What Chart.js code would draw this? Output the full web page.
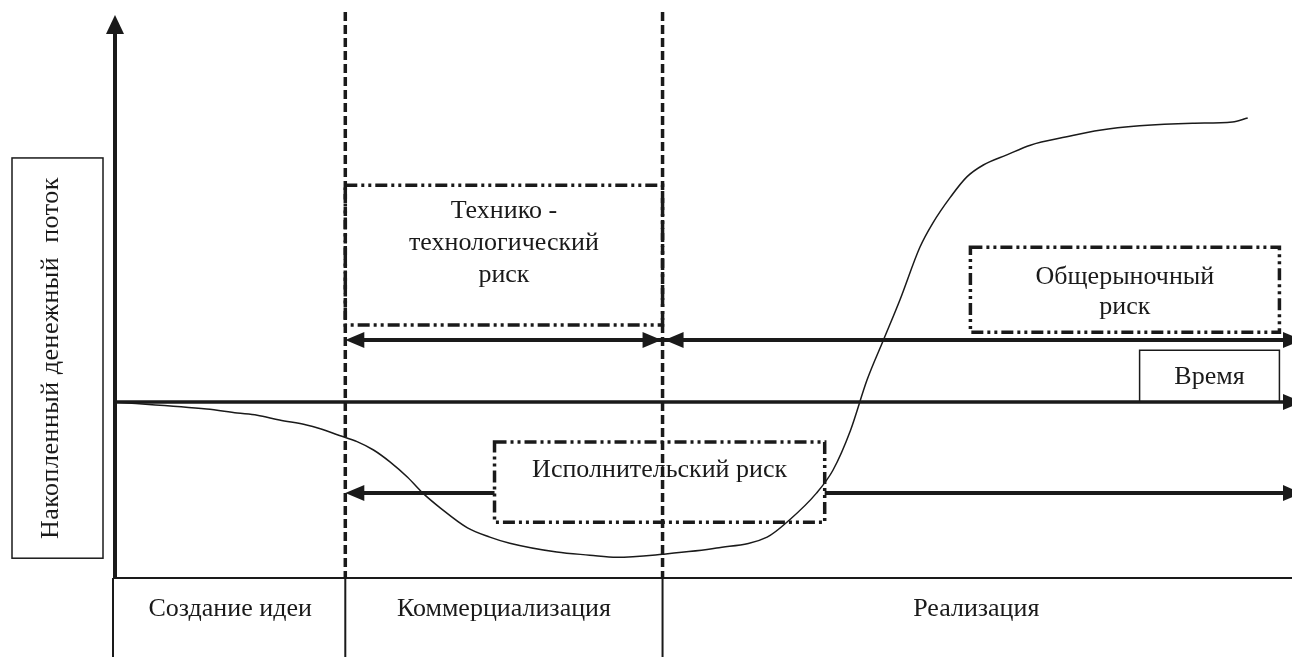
<!DOCTYPE html>
<html>
<head>
<meta charset="utf-8">
<script src="https://cdn.jsdelivr.net/npm/chart.js@4.4.1/dist/chart.umd.min.js"></script>
<style>
  body { margin: 0; background: #fff; }
  #wrap { width: 1292px; height: 657px; position: relative; }
</style>
</head>
<body>
<div id="wrap"><canvas id="chart"></canvas></div>
<script>
// cumulative cash flow curve (time units 0..100, money in relative units)
const timeValues = [0, 7.8, 10.4, 12.1, 14.0, 16.3, 17.4, 19.1, 20.6, 22.0, 23.4, 24.9, 26.2, 27.7, 30.0, 31.9, 33.6, 37.6, 40.4, 42.7, 46.6, 51.2, 55.5, 57.4, 59.7, 61.1, 62.6, 64.0, 65.4, 66.8, 68.5, 69.6, 71.1, 72.5, 73.9, 75.9, 77.9, 81.0, 83.8, 87.2, 91.7, 95.1, 96.4];
const cashFlow = [0, -1.6, -2.5, -3.0, -4.1, -5.2, -6.0, -7.6, -9.0, -10.9, -13.6, -17.1, -20.7, -24.1, -28.6, -30.7, -32.1, -34.1, -34.8, -35.3, -34.6, -33.2, -30.7, -26.8, -20.7, -15.5, -6.4, 5.0, 14.1, 23.2, 35.2, 40.7, 46.6, 51.2, 53.9, 56.2, 58.4, 60.3, 61.8, 62.8, 63.4, 63.7, 64.6];

// phases along the time axis
const phaseLabels = ['Создание идеи', 'Коммерциализация', 'Реализация'];
const phaseBounds = [0, 19.6, 46.6, 100];

// risk boxes: [x1, x2, yTop, yBottom] in chart units
const riskText = [['Технико -', 'технологический', 'риск'], ['Общерыночный', 'риск'], ['Исполнительский риск']];
const riskBoxes = [[19.6, 46.6, 49.3, 17.5], [72.8, 99.1, 35.2, 15.9], [32.3, 60.4, -9.1, -27.3]];

// arrow rows (y levels)
const upperRow = 14.1;
const lowerRow = -20.7;
const timeBox = [87.2, 99.1, 11.8, 0];

const yTitle = 'Накопленный денежный  поток';
const xTitle = 'Время';

const FONT = '26px "Liberation Serif", "Times New Roman", serif';
const INK = '#1a1a1a';

function head(ctx, x, y, dir) {
  ctx.beginPath();
  if (dir === 'up') {
    ctx.moveTo(x, y); ctx.lineTo(x - 9, y + 19); ctx.lineTo(x + 9, y + 19);
  } else {
    ctx.moveTo(x, y); ctx.lineTo(x - dir * 19, y - 8); ctx.lineTo(x - dir * 19, y + 8);
  }
  ctx.closePath();
  ctx.fill();
}

function hline(ctx, x1, x2, y, w) {
  ctx.lineWidth = w;
  ctx.beginPath(); ctx.moveTo(x1, y); ctx.lineTo(x2, y); ctx.stroke();
}

const diagram = {
  id: 'diagram',
  afterDatasetsDraw(chart) {
    const ctx = chart.ctx;
    const xs = chart.scales.x, ys = chart.scales.y;
    const area = chart.chartArea;
    const px = v => xs.getPixelForValue(v);
    const py = v => ys.getPixelForValue(v);
    const H = chart.height;
    const right = chart.width;
    ctx.save();
    ctx.strokeStyle = INK;
    ctx.fillStyle = INK;

    // table of phases
    ctx.lineWidth = 2;
    ctx.beginPath();
    ctx.moveTo(px(0) - 2, area.bottom); ctx.lineTo(right, area.bottom);
    phaseBounds.slice(0, 3).forEach((b, i) => {
      const x = i === 0 ? px(b) - 2 : px(b);
      ctx.moveTo(x, area.bottom); ctx.lineTo(x, H);
    });
    ctx.stroke();
    ctx.font = FONT;
    ctx.textAlign = 'center';
    ctx.textBaseline = 'middle';
    phaseLabels.forEach((t, i) => {
      ctx.fillText(t, (px(phaseBounds[i]) + px(phaseBounds[i + 1])) / 2, area.bottom + 31);
    });

    // dashed phase boundaries
    ctx.setLineDash([9, 4]);
    ctx.lineWidth = 3.5;
    [phaseBounds[1], phaseBounds[2]].forEach(b => {
      ctx.beginPath(); ctx.moveTo(px(b), area.top - 3); ctx.lineTo(px(b), area.bottom); ctx.stroke();
    });

    // risk boxes
    ctx.setLineDash([12, 4, 3, 4, 3, 4]);
    ctx.lineWidth = 3.5;
    riskBoxes.forEach(b => {
      ctx.strokeRect(px(b[0]), py(b[2]), px(b[1]) - px(b[0]), py(b[3]) - py(b[2]));
    });
    ctx.setLineDash([]);
    const offs = [[26, 32], [30, 30], [28, 0]];
    riskText.forEach((lines, i) => {
      const b = riskBoxes[i];
      const cx = (px(b[0]) + px(b[1])) / 2;
      lines.forEach((t, j) => ctx.fillText(t, cx, py(b[2]) + offs[i][0] + j * offs[i][1]));
    });

    // time label box
    ctx.lineWidth = 1.5;
    ctx.beginPath();
    ctx.moveTo(px(timeBox[0]), py(timeBox[3]));
    ctx.lineTo(px(timeBox[0]), py(timeBox[2]));
    ctx.lineTo(px(timeBox[1]), py(timeBox[2]));
    ctx.lineTo(px(timeBox[1]), py(timeBox[3]));
    ctx.stroke();
    ctx.fillText(xTitle, (px(timeBox[0]) + px(timeBox[1])) / 2, py(timeBox[2]) + 27);

    // arrow rows
    const b1 = px(phaseBounds[1]), b2 = px(phaseBounds[2]);
    hline(ctx, b1 + 5, right, py(upperRow), 4);
    head(ctx, b1, py(upperRow), -1);
    head(ctx, b2 - 1, py(upperRow), 1);
    head(ctx, b2 + 2, py(upperRow), -1);
    head(ctx, right + 10, py(upperRow), 1);
    const eb = riskBoxes[2];
    hline(ctx, b1 + 5, px(eb[0]), py(lowerRow), 4);
    head(ctx, b1, py(lowerRow), -1);
    hline(ctx, px(eb[1]), right, py(lowerRow), 4);
    head(ctx, right + 10, py(lowerRow), 1);

    // axes
    hline(ctx, px(0), right, py(0), 3.5);
    head(ctx, right + 10, py(0), 1);
    ctx.lineWidth = 4;
    ctx.beginPath(); ctx.moveTo(px(0), area.bottom + 1); ctx.lineTo(px(0), area.top + 15); ctx.stroke();
    head(ctx, px(0), area.top, 'up');

    // y title box
    ctx.lineWidth = 1.5;
    ctx.strokeRect(12, py(55.5), 91, py(-35.5) - py(55.5));
    ctx.save();
    ctx.translate(51, (py(55.5) + py(-35.5)) / 2);
    ctx.rotate(-Math.PI / 2);
    ctx.letterSpacing = '0.5px';
    ctx.fillText(yTitle, 0, 0);
    ctx.restore();

    ctx.restore();
  }
};

new Chart(document.getElementById('chart'), {
  type: 'line',
  data: {
    datasets: [{
      data: timeValues.map((t, i) => ({ x: t, y: cashFlow[i] })),
      borderColor: INK,
      borderWidth: 1.5,
      pointRadius: 0,
      cubicInterpolationMode: 'monotone',
      fill: false
    }]
  },
  options: {
    responsive: true,
    maintainAspectRatio: false,
    animation: false,
    layout: { padding: { left: 115, right: 2, top: 15, bottom: 79 } },
    plugins: { legend: { display: false }, tooltip: { enabled: false } },
    scales: {
      x: { type: 'linear', min: 0, max: 100, display: false },
      y: { type: 'linear', min: -40, max: 88, display: false }
    }
  },
  plugins: [diagram]
});
</script>
</body>
</html>
